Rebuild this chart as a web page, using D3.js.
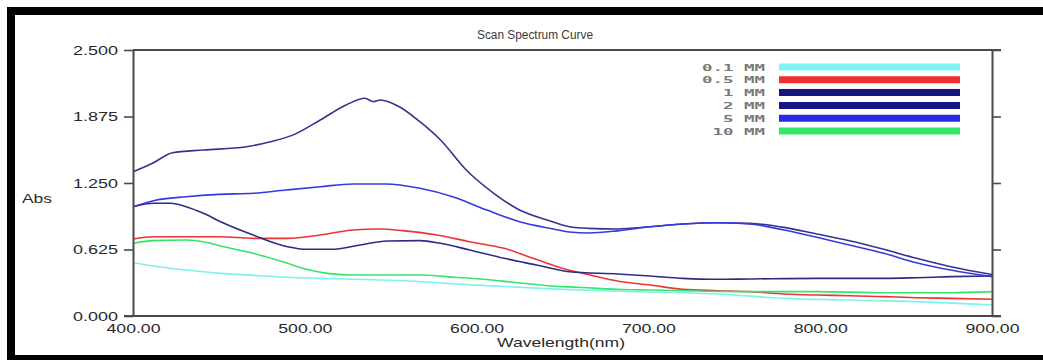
<!DOCTYPE html>
<html>
<head>
<meta charset="utf-8">
<script src="https://cdn.jsdelivr.net/npm/d3@7"></script>
<style>
  html, body { margin: 0; padding: 0; background: #fff; }
  svg { display: block; }
  text { font-family: "Liberation Sans", Arial, sans-serif; }
</style>
</head>
<body>
<div id="chart"></div>
<script>
'use strict';

// legend labels and colours, in legend order
var seriesNames  = ['0.1 MM', '0.5 MM', '1 MM', '2 MM', '5 MM', '10 MM'];
var seriesColors = ['#7ff0f0', '#ec3434', '#2c2c84', '#34348e', '#3838e2', '#36e46c'];
var legendColors = ['#80f4f4', '#f03030', '#141482', '#141482', '#2a2ae2', '#30e868'];

// axis ticks
var absTicks = [0, 0.625, 1.25, 1.875, 2.5];
var wlTicks  = [400, 500, 600, 700, 800, 900];

// wavelength (nm) / absorbance
var wl01  = [400, 412, 431, 451, 470, 490, 509, 540, 570, 600, 650, 700, 720, 740, 779, 817, 856, 900];
var abs01 = [0.501, 0.470, 0.432, 0.401, 0.382, 0.364, 0.354, 0.340, 0.320, 0.290, 0.250, 0.225, 0.219, 0.207, 0.166, 0.150, 0.135, 0.103];

var wl05  = [400, 412, 451, 470, 490, 509, 528, 544, 557, 577, 596, 616, 635, 654, 665, 682, 701, 720, 740, 759, 779, 798, 817, 837, 856, 876, 900];
var abs05 = [0.724, 0.745, 0.745, 0.730, 0.730, 0.761, 0.808, 0.818, 0.802, 0.761, 0.698, 0.636, 0.530, 0.430, 0.390, 0.329, 0.291, 0.251, 0.238, 0.229, 0.207, 0.197, 0.191, 0.182, 0.172, 0.166, 0.157];

var wl1  = [400, 412, 422, 431, 441, 451, 470, 490, 501, 517, 532, 548, 567, 579, 596, 616, 635, 654, 682, 701, 720, 740, 759, 798, 837, 856, 876, 900];
var abs1 = [1.027, 1.059, 1.059, 1.027, 0.965, 0.886, 0.761, 0.651, 0.627, 0.627, 0.667, 0.705, 0.708, 0.683, 0.620, 0.542, 0.479, 0.416, 0.395, 0.376, 0.354, 0.345, 0.348, 0.354, 0.354, 0.360, 0.370, 0.376];

var wl2  = [400, 412, 423, 441, 466, 480, 493, 509, 524, 535, 540, 544, 555, 567, 579, 594, 610, 625, 641, 654, 665, 682, 701, 720, 740, 759, 779, 798, 817, 837, 856, 876, 900];
var abs2 = [1.356, 1.441, 1.535, 1.560, 1.591, 1.638, 1.700, 1.842, 1.983, 2.046, 2.014, 2.030, 1.967, 1.826, 1.654, 1.372, 1.153, 0.996, 0.902, 0.839, 0.824, 0.818, 0.839, 0.865, 0.877, 0.871, 0.833, 0.771, 0.708, 0.627, 0.542, 0.463, 0.390];

var wl5  = [400, 412, 431, 450, 470, 489, 509, 528, 547, 567, 586, 606, 625, 644, 654, 665, 682, 701, 720, 740, 759, 779, 798, 817, 837, 856, 876, 900];
var abs5 = [1.027, 1.084, 1.121, 1.143, 1.153, 1.184, 1.215, 1.241, 1.241, 1.200, 1.121, 0.996, 0.886, 0.820, 0.790, 0.780, 0.800, 0.839, 0.865, 0.877, 0.865, 0.808, 0.740, 0.667, 0.589, 0.501, 0.432, 0.370];

var wl10  = [400, 412, 431, 441, 451, 470, 490, 501, 513, 528, 548, 567, 587, 602, 620, 643, 659, 682, 701, 720, 759, 798, 837, 876, 900];
var abs10 = [0.683, 0.708, 0.714, 0.698, 0.658, 0.589, 0.495, 0.439, 0.401, 0.385, 0.385, 0.385, 0.364, 0.348, 0.320, 0.282, 0.270, 0.251, 0.244, 0.238, 0.229, 0.229, 0.219, 0.219, 0.229];

var seriesWl  = [wl01, wl05, wl1, wl2, wl5, wl10];
var seriesAbs = [abs01, abs05, abs1, abs2, abs5, abs10];

var width = 1043, height = 360;
var plotLeft = 133, plotRight = 992, plotTop = 50, plotBottom = 316;
var axisColor = '#4a4a4a';

var svg = d3.select('#chart')
    .append('svg')
    .attr('width', width)
    .attr('height', height);

//black frame round the window
svg.append('rect').attr('x', 7).attr('y', 7).attr('width', width - 7).attr('height', 8).attr('fill', '#000');
svg.append('rect').attr('x', 7).attr('y', 7).attr('width', 8).attr('height', height - 7).attr('fill', '#000');
svg.append('rect').attr('x', 7).attr('y', 355).attr('width', width - 7).attr('height', 5).attr('fill', '#000');

var x = d3.scaleLinear().domain([400, 900]).range([plotLeft, plotRight]);
var y = d3.scaleLinear().domain([0, 2.5]).range([plotBottom, plotTop]);

//curves
var line = d3.line()
    .x(function (d) { return x(d[0]); })
    .y(function (d) { return y(d[1]); })
    .curve(d3.curveMonotoneX);

svg.append('g')
    .selectAll('path')
    .data(seriesNames)
    .enter()
    .append('path')
    .attr('fill', 'none')
    .attr('stroke', function (d, i) { return seriesColors[i]; })
    .attr('stroke-width', 1.6)
    .attr('d', function (d, i) {
        return line(d3.zip(seriesWl[i], seriesAbs[i]));
    });

//top frame line
svg.append('line')
    .attr('x1', plotLeft).attr('x2', plotRight + 9)
    .attr('y1', plotTop).attr('y2', plotTop)
    .attr('stroke', axisColor).attr('stroke-width', 2);

//left axis
var yAxis = svg.append('g')
    .attr('transform', 'translate(' + plotLeft + ',0)')
    .call(d3.axisLeft(y).tickValues(absTicks).tickSizeInner(9).tickSizeOuter(0).tickPadding(6)
        .tickFormat(d3.format('.3f')));
yAxis.select('.domain').attr('stroke', axisColor).attr('stroke-width', 2);
yAxis.selectAll('.tick line').attr('stroke', axisColor).attr('stroke-width', 1.6);
yAxis.selectAll('.tick text')
    .attr('fill', '#2a2a2a')
    .style('font-size', '13px')
    .attr('textLength', 45)
    .attr('lengthAdjust', 'spacingAndGlyphs');

//right axis, ticks only
var yAxisR = svg.append('g')
    .attr('transform', 'translate(' + plotRight + ',0)')
    .call(d3.axisRight(y).tickValues(absTicks).tickSizeInner(9).tickSizeOuter(0).tickFormat(''));
yAxisR.select('.domain').attr('stroke', axisColor).attr('stroke-width', 2);
yAxisR.selectAll('.tick line').attr('stroke', axisColor).attr('stroke-width', 1.6);

//bottom axis
var xAxis = svg.append('g')
    .attr('transform', 'translate(0,' + plotBottom + ')')
    .call(d3.axisBottom(x).tickValues(wlTicks).tickSize(0).tickPadding(8)
        .tickFormat(d3.format('.2f')));
xAxis.select('.domain').remove();
xAxis.selectAll('.tick text')
    .attr('fill', '#2a2a2a')
    .style('font-size', '13px')
    .attr('textLength', 54)
    .attr('lengthAdjust', 'spacingAndGlyphs');
svg.append('line')
    .attr('x1', plotLeft - 9).attr('x2', plotRight + 9)
    .attr('y1', plotBottom).attr('y2', plotBottom)
    .attr('stroke', axisColor).attr('stroke-width', 2);

//titles
svg.append('text')
    .attr('x', 535).attr('y', 39)
    .attr('text-anchor', 'middle')
    .attr('fill', '#3a3a3a')
    .style('font-size', '12px')
    .attr('textLength', 116)
    .attr('lengthAdjust', 'spacingAndGlyphs')
    .text('Scan Spectrum Curve');

svg.append('text')
    .attr('x', 561).attr('y', 347)
    .attr('text-anchor', 'middle')
    .attr('fill', '#2a2a2a')
    .style('font-size', '13px')
    .attr('textLength', 128)
    .attr('lengthAdjust', 'spacingAndGlyphs')
    .text('Wavelength(nm)');

svg.append('text')
    .attr('x', 22).attr('y', 203)
    .attr('fill', '#2a2a2a')
    .style('font-size', '13px')
    .attr('textLength', 30)
    .attr('lengthAdjust', 'spacingAndGlyphs')
    .text('Abs');

//legend
var ly = d3.scalePoint().domain(seriesNames).range([67, 131]);
var legend = svg.append('g')
    .selectAll('g')
    .data(seriesNames)
    .enter()
    .append('g')
    .attr('transform', function (d) { return 'translate(0,' + ly(d) + ')'; });

legend.append('line')
    .attr('x1', 779).attr('x2', 960)
    .attr('y1', 0).attr('y2', 0)
    .attr('stroke', function (d, i) { return legendColors[i]; })
    .attr('stroke-width', 7);

legend.append('text')
    .attr('x', function (d) { return 765 - d.length * 10.5; })
    .attr('y', 3.5)
    .attr('fill', '#7a7a7a')
    .style('font-family', '"DejaVu Sans Mono", monospace')
    .style('font-size', '9px')
    .style('font-weight', 'bold')
    .attr('textLength', function (d) { return d.length * 10.5; })
    .attr('lengthAdjust', 'spacingAndGlyphs')
    .text(function (d) { return d; });
</script>
</body>
</html>
